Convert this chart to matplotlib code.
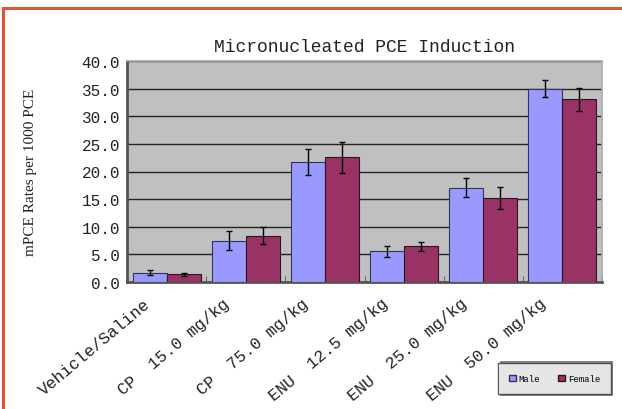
import numpy as np
import matplotlib
matplotlib.use("Agg")
import matplotlib.pyplot as plt
from matplotlib.lines import Line2D
from matplotlib.patches import Patch, Rectangle
from matplotlib.transforms import ScaledTranslation

groups = ["Vehicle/Saline", "CP  15.0 mg/kg", "CP  75.0 mg/kg",
          "ENU  12.5 mg/kg", "ENU  25.0 mg/kg", "ENU  50.0 mg/kg"]
male = [1.7, 7.5, 21.7, 5.6, 17.1, 35.0]
female = [1.4, 8.4, 22.6, 6.5, 15.2, 33.1]
male_err = [0.5, 1.7, 2.3, 1.0, 1.7, 1.5]
female_err = [0.3, 1.6, 2.8, 0.8, 2.0, 2.1]
yticks = [0, 5, 10, 15, 20, 25, 30, 35, 40]

mono = "Liberation Mono"

fig = plt.figure(figsize=(6.22, 4.10), dpi=100)
fig.patch.set_facecolor("white")

# orange frame, top and left only
border = "#E0553A"
fig.add_artist(Line2D([3 / 622, 1], [1 - 9 / 410, 1 - 9 / 410], transform=fig.transFigure,
                      color=border, lw=2.2))
fig.add_artist(Line2D([3 / 622, 3 / 622], [0, 1 - 9 / 410], transform=fig.transFigure,
                      color=border, lw=2.2))

ax = fig.add_axes([127 / 622, 1 - 283 / 410, (602 - 127) / 622, (283 - 62) / 410])
ax.set_facecolor("#C0C0C0")

x = np.arange(len(groups))
w = 0.43
ax.bar(x - w / 2, male, w, color="#9999FF", edgecolor="#333355", lw=0.8, zorder=3,
       yerr=male_err, error_kw=dict(ecolor="black", elinewidth=1, capsize=2, capthick=1))
ax.bar(x + w / 2, female, w, color="#993366", edgecolor="#331122", lw=0.8, zorder=3,
       yerr=female_err, error_kw=dict(ecolor="black", elinewidth=1, capsize=2, capthick=1))

ax.set_xlim(-0.5, len(groups) - 0.5)
ax.set_ylim(0, 40)
ax.set_yticks(yticks)
ax.set_yticklabels(["%.1f" % v for v in yticks], fontfamily=mono, fontsize=11.5,
                   color="#222222")
ax.yaxis.grid(True, color="#222222", lw=1)
ax.set_axisbelow(True)
ax.tick_params(axis="y", length=0, pad=5)

ax.set_xticks(x)
ax.set_xticklabels(groups, rotation=40, ha="right", rotation_mode="anchor",
                   fontfamily=mono, fontsize=12, color="#222222")
ax.tick_params(axis="x", length=0, pad=4)
ax.set_xticks(np.arange(len(groups) + 1) - 0.5, minor=True)
ax.tick_params(axis="x", which="minor", length=4, direction="in", color="#555555")
off = ScaledTranslation(-0.23, -0.08, fig.dpi_scale_trans)
for lab in ax.get_xticklabels():
    lab.set_transform(lab.get_transform() + off)

for s in ["left", "bottom"]:
    ax.spines[s].set_color("#555555")
    ax.spines[s].set_linewidth(2)
for s in ["top", "right"]:
    ax.spines[s].set_color("#AAAAAA")
    ax.spines[s].set_linewidth(1.2)

ax.set_title("Micronucleated PCE Induction", fontfamily=mono, fontsize=13, pad=7,
             color="#222222")
ax.set_ylabel("mPCE Rates per 1000 PCE", fontfamily="Liberation Serif", fontsize=11,
              labelpad=32, color="#222222")

# legend with shadow
handles = [Patch(facecolor="#9999FF", edgecolor="#333355", label="Male"),
           Patch(facecolor="#993366", edgecolor="#331122", label="Female")]
leg = fig.legend(handles=handles, loc="lower left",
                 bbox_to_anchor=(498 / 622, 1 - 395 / 410, (611 - 498) / 622, 35 / 410),
                 mode="expand", ncol=2, prop={"family": mono, "size": 6.5},
                 handlelength=0.8, handleheight=0.8, handletextpad=0.3, columnspacing=0.8,
                 frameon=True, fancybox=False, shadow=False, borderaxespad=0,
                 borderpad=1.2)
leg.get_frame().set_edgecolor("#333333")
leg.get_frame().set_linewidth(1)
fig.add_artist(Rectangle((500 / 622, 1 - 397 / 410), (611 - 498) / 622, 35 / 410,
                         transform=fig.transFigure, facecolor="#888888",
                         edgecolor="none", zorder=leg.get_zorder() - 1))

fig.savefig("out.png", dpi=100)
